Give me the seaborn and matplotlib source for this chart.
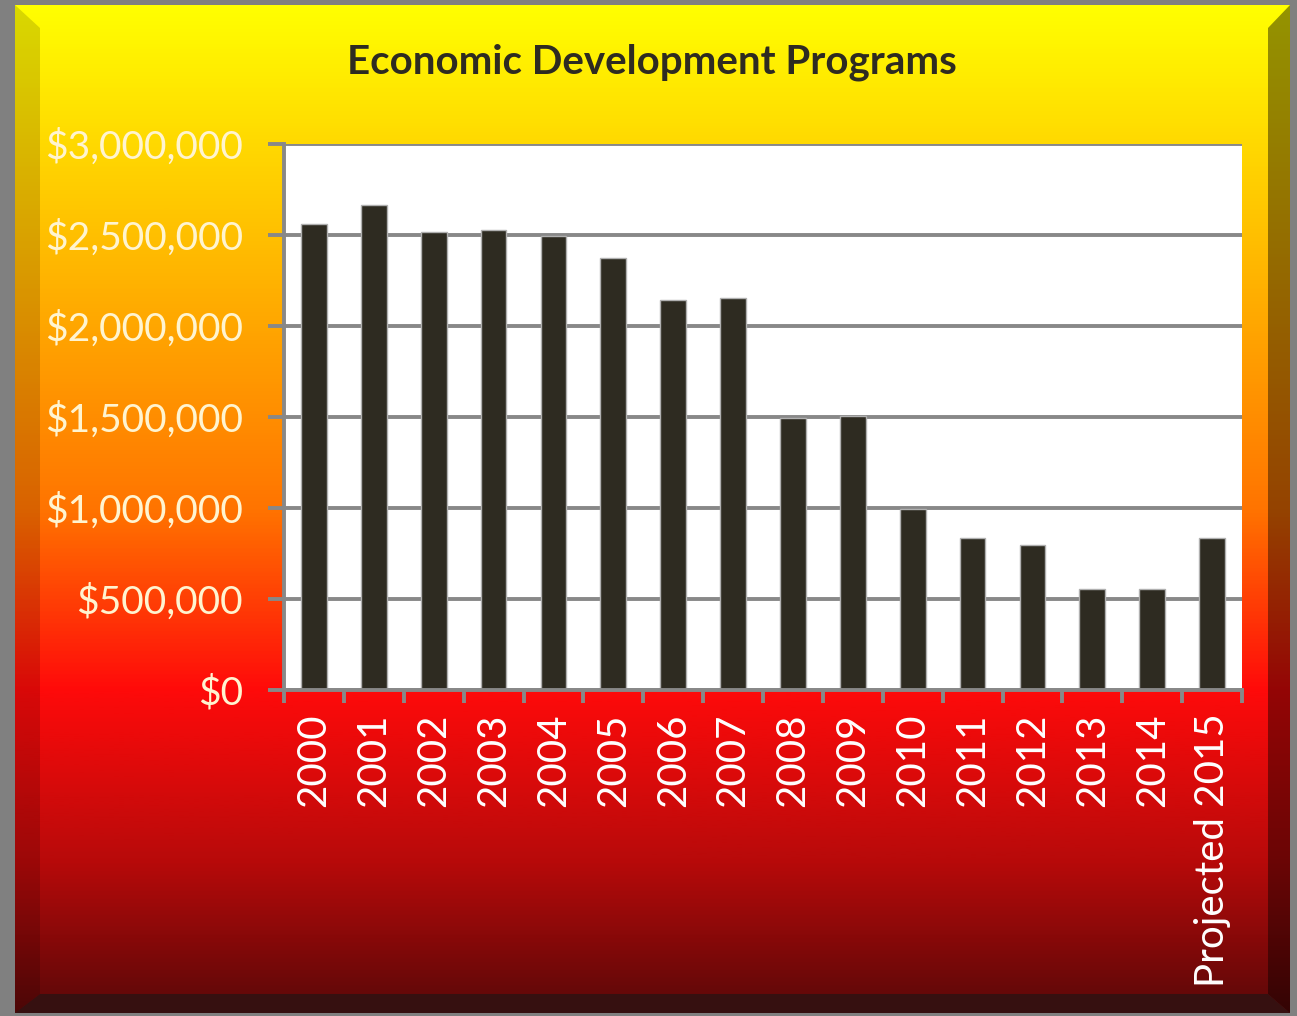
import numpy as np
import pandas as pd
import seaborn as sns
import matplotlib.pyplot as plt
from matplotlib.colors import LinearSegmentedColormap
from matplotlib.patches import Polygon
from matplotlib.ticker import FuncFormatter, FixedLocator

years = ["2000", "2001", "2002", "2003", "2004", "2005", "2006", "2007",
         "2008", "2009", "2010", "2011", "2012", "2013", "2014", "Projected 2015"]
funding = [2560000, 2665000, 2516000, 2527000, 2495000, 2374000, 2143000, 2154000,
           1495000, 1505000, 995000, 835000, 797000, 555000, 555000, 835000]
y_ticks = [0, 500000, 1000000, 1500000, 2000000, 2500000, 3000000]

df = pd.DataFrame({"year": years, "funding": funding})

sns.set_theme(style="white")
plt.rcParams["font.family"] = ["Lato", "DejaVu Sans"]

W, H = 1297, 1016
fig = plt.figure(figsize=(W / 100, H / 100), dpi=100)
fig.patch.set_facecolor("#808080")

# background with gradient and bevel frame, in pixel coords
bg = fig.add_axes([0, 0, 1, 1], zorder=-1)
bg.axis("off")
cmap = LinearSegmentedColormap.from_list(
    "bg", [(0, "#ffff00"), (0.3, "#ffab00"), (0.5, "#ff7400"),
           (0.68, "#ff0a0a"), (0.85, "#b80a0a"), (1.0, "#5a0808")])
grad = np.linspace(0, 1, 512).reshape(-1, 1)
bg.imshow(grad, cmap=cmap, aspect="auto", extent=[15, 1290, 1013, 5])
bg.add_patch(Polygon([(15, 5), (40, 28), (40, 994), (15, 1013)],
                     closed=True, color="black", alpha=0.15, lw=0))
bg.add_patch(Polygon([(1290, 5), (1268, 28), (1268, 994), (1290, 1013)],
                     closed=True, color="black", alpha=0.42, lw=0))
bg.add_patch(Polygon([(15, 1013), (40, 994), (1268, 994), (1290, 1013)],
                     closed=True, color="#361010", lw=0))
bg.set_xlim(0, W)
bg.set_ylim(H, 0)

ax = fig.add_axes([284 / W, 1 - 690 / H, 958 / W, 546 / H])
ax.set_facecolor("white")
sns.barplot(data=df, x="year", y="funding", ax=ax, color="#2e2b21",
            width=0.43, edgecolor="#b0b0b0", linewidth=1, saturation=1)

ax.set_xlim(-0.5, len(years) - 0.5)
ax.set_ylim(0, 3000000)
ax.set_yticks(y_ticks)
ax.yaxis.set_major_formatter(FuncFormatter(lambda v, p: f"${v:,.0f}"))
ax.set_axisbelow(True)
ax.grid(axis="y", color="#888888", linewidth=2.8)
ax.grid(axis="x", visible=False)
ax.set_xlabel("")
ax.set_ylabel("")

for s in ["top", "right"]:
    ax.spines[s].set_visible(False)
for s in ["left", "bottom"]:
    ax.spines[s].set_color("#888888")
    ax.spines[s].set_linewidth(2.8)

ax.tick_params(axis="y", direction="out", length=11.5, width=2.8, color="#888888",
               labelcolor="#fff4d0", labelsize=28, pad=18, left=True)
ax.tick_params(axis="x", which="major", length=0, labelcolor="white",
               labelsize=29, pad=17, rotation=90)
ax.xaxis.set_minor_locator(FixedLocator(np.arange(-0.5, len(years), 1.0)))
ax.tick_params(axis="x", which="minor", direction="out", length=9, width=2.8,
               color="#888888", bottom=True)

fig.text(652 / W, 1 - 62 / H, "Economic Development Programs", ha="center",
         va="center", fontsize=29, fontweight="bold", color="#2e2b21")

fig.savefig("out.png", dpi=100, facecolor=fig.get_facecolor())
